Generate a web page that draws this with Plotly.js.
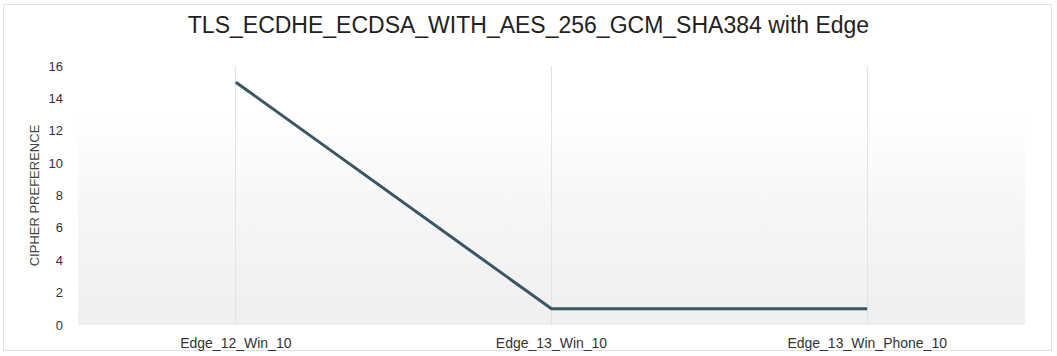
<!DOCTYPE html>
<html>
<head>
<meta charset="utf-8">
<script src="https://cdn.plot.ly/plotly-3.0.1.min.js"></script>
<style>
  html, body { margin: 0; padding: 0; background: #fff; }
  #wrap { position: relative; width: 1057px; height: 356px; }
  #frame { position: absolute; left: 3px; top: 4px; width: 1049px; height: 347px; border: 1px solid #e2e2e2; box-sizing: border-box; }
  #bg { position: absolute; left: 78px; top: 66px; width: 947px; height: 259px;
        background: linear-gradient(to bottom, #ffffff 0%, #ffffff 18%, #f7f7f7 50%, #efefef 100%); }
  #chart { position: absolute; left: 0; top: 0; width: 1057px; height: 356px; }
</style>
</head>
<body>
<div id="wrap">
  <div id="frame"></div>
  <div id="bg"></div>
  <div id="chart"></div>
</div>
<script>
const categories = ["Edge_12_Win_10", "Edge_13_Win_10", "Edge_13_Win_Phone_10"];
const preference = [15, 1, 1];
const yTicks = [0, 2, 4, 6, 8, 10, 12, 14, 16];

const trace = {
  x: categories,
  y: preference,
  type: "scatter",
  mode: "lines",
  line: { color: "#3a5666", width: 3 },
  hoverinfo: "x+y"
};

const layout = {
  width: 1057,
  height: 356,
  margin: { l: 78, r: 32, t: 66, b: 31 },
  paper_bgcolor: "rgba(0,0,0,0)",
  plot_bgcolor: "rgba(0,0,0,0)",
  showlegend: false,
  font: { family: "Liberation Sans, Arial, sans-serif", color: "#444" },
  title: {
    text: "TLS_ECDHE_ECDSA_WITH_AES_256_GCM_SHA384 with Edge",
    font: { size: 23, color: "#222", family: "Liberation Sans, Arial, sans-serif" },
    x: 0.5, xanchor: "center", y: 0.93, yanchor: "middle"
  },
  xaxis: {
    type: "category",
    range: [-0.5, 2.5],
    showgrid: true,
    gridcolor: "#e3e3e3",
    gridwidth: 1,
    zeroline: false,
    showline: false,
    ticks: "",
    tickfont: { size: 14, color: "#333" },
    ticklabelstandoff: 8,
    automargin: false
  },
  yaxis: {
    range: [0, 16],
    tickvals: yTicks,
    ticktext: yTicks.map(String),
    showgrid: false,
    zeroline: false,
    showline: false,
    ticks: "",
    tickfont: { size: 13, color: "#333" },
    ticklabelstandoff: 14,
    title: { text: "CIPHER PREFERENCE", font: { size: 13, color: "#444" }, standoff: 5 },
    automargin: false
  }
};

Plotly.newPlot("chart", [trace], layout, { displayModeBar: false });
</script>
</body>
</html>
